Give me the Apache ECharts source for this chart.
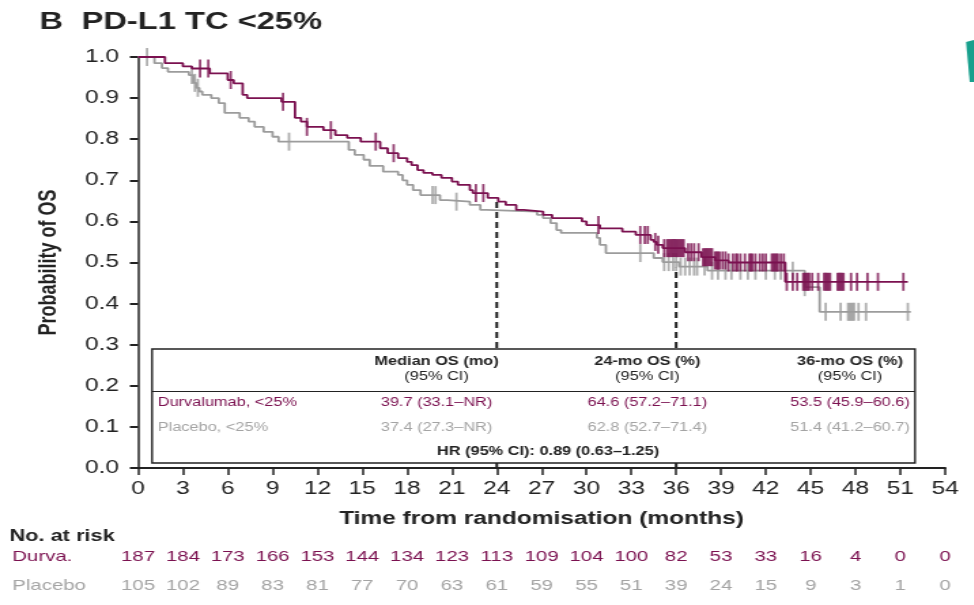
<!DOCTYPE html>
<html>
<head>
<meta charset="utf-8">
<script src="https://cdn.jsdelivr.net/npm/echarts@6/dist/echarts.min.js"></script>
<style>
  html, body { margin: 0; padding: 0; background: #fff; overflow: hidden; }
  /* the source figure is stretched sideways, so the chart is drawn narrow and widened */
  #chart { width: 716px; height: 605px; transform: scaleX(1.36); transform-origin: 0 0; }
</style>
</head>
<body>
<div id="chart"></div>
<script>
const MAROON = '#7b1150';
const GREY = '#9c9c9c';
const GREY_TEXT = '#a4a4a4';
const FONT = '"Liberation Sans", Arial, sans-serif';

// Kaplan-Meier steps (months, probability)
const durvaTime = [0, 1.8, 3.0, 3.6, 4.8, 6.0, 6.4, 7.0, 7.3, 9.6, 10.5, 10.9, 11.3, 12.4, 13.2, 14.0, 14.9,
  16.2, 16.7, 17.4, 18.0, 18.3, 18.7, 19.1, 19.7, 20.3, 21.0, 21.4, 22.2, 22.4, 23.4, 24.1, 24.6, 25.3,
  25.8, 27.1, 27.7, 29.7, 30.0, 30.9, 32.4, 33.3, 34.3, 34.5, 34.7, 35.1, 36.6, 37.7, 38.6, 39.5, 43.3, 51.5];
const durvaSurv = [1.0, 0.985, 0.977, 0.972, 0.96, 0.944, 0.936, 0.908, 0.9, 0.891, 0.852, 0.843, 0.83, 0.822, 0.81, 0.803, 0.794,
  0.778, 0.766, 0.754, 0.745, 0.737, 0.725, 0.718, 0.713, 0.706, 0.697, 0.689, 0.676, 0.669, 0.657, 0.648, 0.64, 0.628,
  0.624, 0.616, 0.608, 0.6, 0.591, 0.583, 0.575, 0.567, 0.555, 0.55, 0.543, 0.535, 0.525, 0.513, 0.505, 0.5, 0.453, 0.453];

const placeboTime = [0, 1.1, 1.6, 2.0, 3.4, 3.7, 3.9, 4.1, 4.3, 4.9, 5.4, 5.8, 6.8, 7.4, 7.8, 8.4, 9.0, 9.4,
  14.1, 14.5, 15.1, 15.5, 16.4, 17.4, 17.7, 18.0, 18.4, 18.9, 20.2, 20.7, 22.2, 22.9, 23.3, 26.7, 27.1,
  27.6, 28.0, 28.3, 30.7, 30.9, 31.3, 34.5, 35.1, 36.2, 38.1, 44.6, 45.6, 51.7];
const placeboSurv = [1.0, 0.985, 0.973, 0.964, 0.956, 0.937, 0.925, 0.916, 0.908, 0.9, 0.888, 0.864, 0.852, 0.843, 0.83, 0.818, 0.806, 0.794,
  0.774, 0.762, 0.75, 0.735, 0.721, 0.713, 0.7, 0.689, 0.676, 0.664, 0.652, 0.648, 0.64, 0.628, 0.624, 0.616, 0.608,
  0.596, 0.579, 0.572, 0.56, 0.543, 0.523, 0.511, 0.501, 0.49, 0.48, 0.44, 0.38, 0.38];

// censoring times (months)
const durvaCensor = [4.15, 4.7, 6.2, 9.7, 11.3, 12.9, 15.9, 17.1, 22.6, 23.1, 30.8, 33.6, 33.9, 34.1, 34.6, 34.8,
  35.2, 35.4, 35.5, 35.6, 35.7, 35.8, 35.9, 36.0, 36.1, 36.2, 36.3, 36.4, 36.5, 36.8, 37.0, 37.2, 37.5,
  37.8, 37.9, 38.0, 38.1, 38.2, 38.3, 38.4, 38.6, 38.7, 38.8, 38.9, 39.1, 39.3, 39.5, 39.8, 40.0, 40.1,
  40.3, 40.6, 40.9, 41.0, 41.1, 41.3, 41.6, 41.8, 42.0, 42.4, 42.5, 42.6, 42.7, 42.8, 43.0, 43.2,
  43.4, 43.8, 44.1, 44.5, 44.6, 44.7, 44.8, 44.9, 45.1, 45.5, 45.9, 46.0, 46.1, 46.2, 46.3, 46.8, 46.9,
  47.0, 47.1, 47.2, 47.7, 48.1, 48.8, 49.5, 51.2];
const placeboCensor = [0.6, 3.6, 3.8, 4.0, 10.1, 19.7, 19.9, 21.3, 33.6, 35.2, 35.5, 35.8, 36.0, 36.3, 36.6,
  36.9, 37.2, 37.4, 37.9, 38.4, 38.8, 39.3, 39.7, 40.3, 40.8, 41.3, 42.0, 42.6, 43.0, 43.8, 44.6,
  46.0, 47.0, 47.5, 47.6, 47.7, 47.8, 47.9, 48.2, 48.7, 51.5];

// dashed landmark lines at 24 and 36 months
const landmarkTime = [24, 36];
const landmarkTop = [0.648, 0.487];

// numbers at risk, one per x tick
const riskTicks = [0, 3, 6, 9, 12, 15, 18, 21, 24, 27, 30, 33, 36, 39, 42, 45, 48, 51, 54];
const durvaRisk = [187, 184, 173, 166, 153, 144, 134, 123, 113, 109, 104, 100, 82, 53, 33, 16, 4, 0, 0];
const placeboRisk = [105, 102, 89, 83, 81, 77, 70, 63, 61, 59, 55, 51, 39, 24, 15, 9, 3, 1, 0];

// summary table
const tableHeads = [['Median OS (mo)', '(95% CI)'], ['24-mo OS (%)', '(95% CI)'], ['36-mo OS (%)', '(95% CI)']];
const durvaRow = ['Durvalumab, <25%', '39.7 (33.1–NR)', '64.6 (57.2–71.1)', '53.5 (45.9–60.6)'];
const placeboRow = ['Placebo, <25%', '37.4 (27.3–NR)', '62.8 (52.7–71.4)', '51.4 (41.2–60.7)'];
const hrText = 'HR (95% CI): 0.89 (0.63–1.25)';

function survAt(t, times, surv) {
  let s = surv[0];
  for (let i = 0; i < times.length; i++) {
    if (times[i] <= t) s = surv[i];
  }
  return s;
}

const chart = echarts.init(document.getElementById('chart'));

const colX = [321, 476, 625];
function txt(text, x, y, opts) {
  opts = opts || {};
  return {
    type: 'text', z: 100,
    style: {
      text, x, y,
      fill: opts.color || '#222',
      font: (opts.bold ? 'bold ' : '') + (opts.size || 12) + 'px ' + FONT,
      textAlign: opts.align || 'center', align: opts.align || 'center',
      textVerticalAlign: 'middle', verticalAlign: 'middle'
    }
  };
}

const graphics = [
  txt('B', 29, 22, { bold: true, size: 24, align: 'left' }),
  txt('PD-L1 TC <25%', 60, 22, { bold: true, size: 24, align: 'left' }),
  {
    type: 'polygon', z: 100,
    shape: { points: [[710.3, 42], [716, 40], [716, 82], [713, 82]] },
    style: { fill: '#17a08d' }
  },
  {
    type: 'rect', z: 90,
    shape: { x: 111.8, y: 349, width: 561, height: 114 },
    style: { fill: '#fff', stroke: '#222', lineWidth: 1.4 }
  },
  {
    type: 'line', z: 95,
    shape: { x1: 111.8, y1: 391.5, x2: 672.8, y2: 391.5 },
    style: { stroke: '#222', lineWidth: 1.2 }
  },
  txt('Durvalumab, <25%', 116, 403, { color: MAROON, align: 'left' }),
  txt('Placebo, <25%', 116, 428, { color: GREY_TEXT, align: 'left' }),
  txt(hrText, 403, 452, { bold: true }),
  txt('No. at risk', 7, 537, { bold: true, size: 16, align: 'left' }),
  txt('Durva.', 9, 557, { color: MAROON, size: 15, align: 'left' }),
  txt('Placebo', 9, 586, { color: GREY_TEXT, size: 15, align: 'left' })
];
tableHeads.forEach((h, i) => {
  graphics.push(txt(h[0], colX[i], 362, { bold: true }));
  graphics.push(txt(h[1], colX[i], 377));
  graphics.push(txt(durvaRow[i + 1], colX[i], 403, { color: MAROON }));
  graphics.push(txt(placeboRow[i + 1], colX[i], 428, { color: GREY_TEXT }));
});

function riskAxis(offset, values, color) {
  return {
    type: 'value', min: 0, max: 54, interval: 3, position: 'bottom', offset,
    axisLine: { show: false }, axisTick: { show: false }, splitLine: { show: false },
    axisLabel: {
      color, fontSize: 15, fontFamily: FONT, margin: 8,
      formatter: (v) => {
        const i = riskTicks.indexOf(Math.round(v));
        return i < 0 ? '' : String(values[i]);
      }
    }
  };
}

const censorSymbol = { symbol: 'rect', symbolSize: [1.8, 18] };

const option = {
  animation: false,
  backgroundColor: '#fff',
  grid: { left: 101.5, right: 21, top: 57, bottom: 137 },
  xAxis: [
    {
      type: 'value', min: 0, max: 54, interval: 3,
      name: 'Time from randomisation (months)', nameLocation: 'middle', nameGap: 42,
      nameTextStyle: { color: '#222', fontSize: 18, fontWeight: 'bold', fontFamily: FONT },
      axisLine: { lineStyle: { color: '#222', width: 2 } },
      axisTick: { length: 7, lineStyle: { color: '#222', width: 1.5 } },
      axisLabel: { color: '#222', fontSize: 18, fontFamily: FONT, margin: 12 },
      splitLine: { show: false }
    },
    riskAxis(73, durvaRisk, MAROON),
    riskAxis(102, placeboRisk, GREY_TEXT)
  ],
  yAxis: {
    type: 'value', min: 0, max: 1, interval: 0.1,
    name: 'Probability of OS', nameLocation: 'middle', nameGap: 56,
    nameTextStyle: { color: '#222', fontSize: 18, fontWeight: 'bold', fontFamily: FONT },
    axisLine: { show: true, lineStyle: { color: '#222', width: 1.5 } },
    axisTick: { show: true, length: 6, lineStyle: { color: '#222', width: 2 } },
    axisLabel: { color: '#222', fontSize: 18, fontFamily: FONT, margin: 14, formatter: (v) => v.toFixed(1) },
    splitLine: { show: false }
  },
  graphic: graphics,
  series: [
    {
      name: 'Placebo', type: 'line', step: 'end', showSymbol: false, z: 3,
      lineStyle: { color: GREY, width: 1.8 },
      data: placeboTime.map((t, i) => [t, placeboSurv[i]])
    },
    {
      name: 'Placebo censored', type: 'scatter', z: 3, ...censorSymbol,
      itemStyle: { color: GREY },
      data: placeboCensor.map((t) => [t, survAt(t, placeboTime, placeboSurv)])
    },
    {
      name: 'Durvalumab', type: 'line', step: 'end', showSymbol: false, z: 4,
      lineStyle: { color: MAROON, width: 1.8 },
      data: durvaTime.map((t, i) => [t, durvaSurv[i]])
    },
    {
      name: 'Durvalumab censored', type: 'scatter', z: 4, ...censorSymbol,
      itemStyle: { color: MAROON },
      data: durvaCensor.map((t) => [t, survAt(t, durvaTime, durvaSurv)])
    },
    ...landmarkTime.map((t, i) => ({
      name: 'landmark ' + t, type: 'line', showSymbol: false, z: 2,
      lineStyle: { color: '#222', width: 2, type: [6, 4] },
      data: [[t, 0], [t, landmarkTop[i]]]
    }))
  ]
};

chart.setOption(option);
</script>
</body>
</html>
